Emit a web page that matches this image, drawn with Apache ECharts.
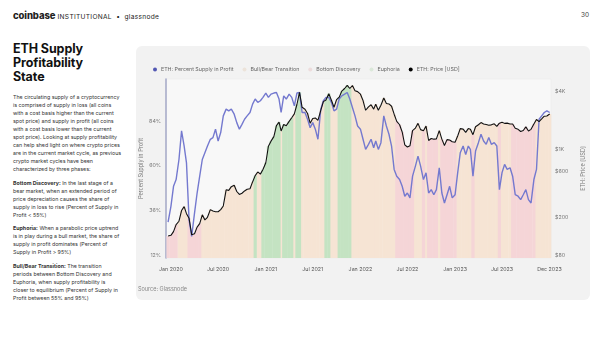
<!DOCTYPE html>
<html><head><meta charset="utf-8">
<script src="https://cdn.jsdelivr.net/npm/echarts@6/dist/echarts.min.js"></script>
<style>
html,body{margin:0;padding:0;width:600px;height:338px;background:#fff;overflow:hidden;font-family:Inter,"Noto Sans",sans-serif;}
#hdr{position:absolute;left:13px;top:10px;font-size:6.6px;color:#222;white-space:nowrap;letter-spacing:0.3px;line-height:12px}
#hdr b{font-weight:800;font-size:9.5px;letter-spacing:-0.1px}
#pg{position:absolute;left:581px;top:11px;font-size:6.5px;color:#444}
#title{position:absolute;left:13px;top:42px;font-size:12.5px;font-weight:700;line-height:14px;color:#111;letter-spacing:-0.1px}
#body{position:absolute;left:13px;top:93px;font-size:5.3px;line-height:8px;color:#333;white-space:nowrap;}
#body p{margin:0 0 5.5px 0}
#card{position:absolute;left:136px;top:46px;width:454px;height:254px;background:#f2f2f2;border-radius:6px;}
#chart{position:absolute;left:0;top:0;width:454px;height:254px}
</style></head>
<body>
<div id="hdr"><b>coinbase</b> INSTITUTIONAL &nbsp;•&nbsp; glassnode</div>
<div id="pg">30</div>
<div id="title">ETH Supply<br>Profitability<br>State</div>
<div id="body">
<p>The circulating supply of a cryptocurrency<br>is comprised of supply in loss (all coins<br>with a cost basis higher than the current<br>spot price) and supply in profit (all coins<br>with a cost basis lower than the current<br>spot price). Looking at supply profitability<br>can help shed light on where crypto prices<br>are in the current market cycle, as previous<br>crypto market cycles have been<br>characterized by three phases:</p>
<p><b>Bottom Discovery:</b> In the last stage of a<br>bear market, when an extended period of<br>price depreciation causes the share of<br>supply in loss to rise (Percent of Supply in<br>Profit &lt; 55%)</p>
<p><b>Euphoria:</b> When a parabolic price uptrend<br>is in play during a bull market, the share of<br>supply in profit dominates (Percent of<br>Supply in Profit &gt; 95%)</p>
<p><b>Bull/Bear Transition:</b> The transition<br>periods between Bottom Discovery and<br>Euphoria, when supply profitability is<br>closer to equilibrium (Percent of Supply in<br>Profit between 55% and 95%)</p>
</div>
<div id="card"><div id="chart"></div></div>
<script>
const dates = [
'2019-12-21',
'2020-01-01','2020-01-11','2020-01-21','2020-02-01','2020-02-11','2020-02-21','2020-03-01','2020-03-11','2020-03-21',
'2020-04-01','2020-04-11','2020-04-21','2020-05-01','2020-05-11','2020-05-21','2020-06-01','2020-06-11','2020-06-21',
'2020-07-01','2020-07-11','2020-07-21','2020-08-01','2020-08-11','2020-08-21','2020-09-01','2020-09-11','2020-09-21',
'2020-10-01','2020-10-11','2020-10-21','2020-11-01','2020-11-11','2020-11-21','2020-12-01','2020-12-11','2020-12-21',
'2021-01-01','2021-01-11','2021-01-21','2021-02-01','2021-02-11','2021-02-21','2021-03-01','2021-03-11','2021-03-21',
'2021-04-01','2021-04-11','2021-04-21','2021-05-01','2021-05-11','2021-05-21','2021-06-01','2021-06-11','2021-06-21',
'2021-07-01','2021-07-11','2021-07-21','2021-08-01','2021-08-11','2021-08-21','2021-09-01','2021-09-11','2021-09-21',
'2021-10-01','2021-10-11','2021-10-21','2021-11-01','2021-11-11','2021-11-21','2021-12-01','2021-12-11','2021-12-21',
'2022-01-01','2022-01-11','2022-01-21','2022-02-01','2022-02-11','2022-02-21','2022-03-01','2022-03-11','2022-03-21',
'2022-04-01','2022-04-11','2022-04-21','2022-05-01','2022-05-11','2022-05-21','2022-06-01','2022-06-11','2022-06-21',
'2022-07-01','2022-07-11','2022-07-21','2022-08-01','2022-08-11','2022-08-21','2022-09-01','2022-09-11','2022-09-21',
'2022-10-01','2022-10-11','2022-10-21','2022-11-01','2022-11-11','2022-11-21','2022-12-01','2022-12-11','2022-12-21',
'2023-01-01','2023-01-11','2023-01-21','2023-02-01','2023-02-11','2023-02-21','2023-03-01','2023-03-11','2023-03-21',
'2023-04-01','2023-04-11','2023-04-21','2023-05-01','2023-05-11','2023-05-21','2023-06-01','2023-06-11','2023-06-21',
'2023-07-01','2023-07-11','2023-07-21','2023-08-01','2023-08-11','2023-08-21','2023-09-01','2023-09-11','2023-09-21',
'2023-10-01','2023-10-11','2023-10-21','2023-11-01','2023-11-11','2023-11-21','2023-12-01','2023-12-11','2023-12-21',
'2024-01-01'
];
const supplyInProfit = [
30,
38.4,49.1,52.7, 63.4,78.7,70.6, 61.6,31.2,22.3, 34.8,45.5,54.5, 63.4,67,70.6, 74.2,75.1,79.6,
73.3,77.8,86.7, 90.3,89.4,90.3, 87.6,83.1,79.6, 82.2,84.9,86.7, 88.5,93,95.7, 93.9,94.8,96.6,
98.9,96.6,98.3, 98.9,99.2,95.7, 88.5,97.4,95.7, 98.3,96.6,92.1, 98.9,99.2,88.5, 88.5,84.9,80.4,
83.1,79.6,74.2, 90.3,94.8,96.6, 96.6,93.9,89.4, 90.3,95.7,97.4, 98.3,99.2,95.7, 91.2,86.7,81.3,
79.6,74.2,68.8, 71.5,74.2,69.7, 73.3,68.8,72.4, 86.7,81.3,76.9, 70.6,58.1,54.5, 52.7,49.1,43.8,
45.5,42.9,54.5, 59.9,65.2,59.9, 52.7,56.3,45.5, 47.3,44.6,47.3, 59,45.5,40.2, 44.6,49.1,42.9,
44.6,56.3,67, 70.6,66.1,70.6, 68.8,54.5,67.9, 72.4,76.9,73.3, 71.5,75.1,71.5, 72.4,70.6,47.3,
56.3,60.8,58.1, 59,54.5,44.6, 43.8,42,44.6, 47.3,42,40.2, 52.7,58.1,84.9, 86.7,88.5,89.4,
88.5
];
const ethPrice = [
128,
130,142,168, 182,235,258, 218,195,132, 135,158,172, 212,188,200, 240,232,228,
228,240,262, 385,380,415, 430,370,345, 355,375,390, 395,465,540, 590,560,625,
735,1090,1230, 1370,1780,1935, 1570,1830,1780, 1970,2150,2360, 2950,3950,2760, 2630,2380,1890,
2110,2140,2020, 2560,3160,3280, 3820,3260,2760, 3310,3510,4060, 4320,4650,4320, 4630,4100,4010,
3770,3240,2570, 2790,2930,2640, 2970,2570,2900, 3450,3020,2990, 2830,2340,1970, 1820,1530,1125,
1070,1100,1580, 1680,1880,1620, 1580,1760,1250, 1310,1290,1300, 1580,1290,1110, 1275,1265,1215,
1200,1390,1660, 1640,1515,1660, 1630,1435,1735, 1820,1915,1850, 1830,1800,1815, 1860,1750,1890,
1935,1880,1890, 1855,1850,1670, 1630,1550,1585, 1730,1570,1630, 1850,2060,1960, 2090,2230,2240,
2350
];
const percentTicks = [12, 36, 60, 84];
const priceTicks = [80, 200, 600, 1000, 4000];
const priceTickLabels = ['$80', '$200', '$600', '$1K', '$4K'];
const xTicks = ['2020-01-01','2020-07-01','2021-01-01','2021-07-01','2022-01-01','2022-07-01','2023-01-01','2023-07-01','2023-12-31'];
const xTickLabels = ['Jan 2020','Jul 2020','Jan 2021','Jul 2021','Jan 2022','Jul 2022','Jan 2023','Jul 2023','Dec 2023'];
const stateNames = ['Bull/Bear Transition', 'Bottom Discovery', 'Euphoria'];
const stateColors = ['#f6e4d4', '#f5d5d7', '#c4e3c2'];
const stateLegendColors = ['#ece3da', '#eddcdc', '#dbe8da'];

function ts(s){ const p = s.split('-').map(Number); return Date.UTC(p[0], p[1]-1, p[2]); }
const xTickTs = xTicks.map(ts);
const dateTs = dates.map(ts);
function stateOf(v){ return v > 95 ? 2 : (v < 55 ? 1 : 0); }

const chart = echarts.init(document.getElementById('chart'), null, {renderer:'canvas'});
const font = 'Inter, "Noto Sans", sans-serif';

const stateSeries = stateNames.map((nm, k) => ({
  name: nm, type: 'bar', yAxisIndex: 1, barWidth: 3.2, barGap: '-100%',
  itemStyle: { color: stateColors[k] }, clip: true, silent: true, z: 1,
  data: dateTs.map((d, i) => [d, stateOf(supplyInProfit[i]) === k ? ethPrice[i] : '-'])
}));

chart.setOption({
  animation: false,
  textStyle: { fontFamily: font },
  legend: {
    left: 12, top: 16, itemWidth: 4, itemHeight: 4, itemGap: 9, icon: 'circle',
    textStyle: { fontSize: 5.3, color: '#666', fontFamily: font, padding: [0, 0, 0, -1] },
    data: [
      { name: 'ETH: Percent Supply in Profit', itemStyle: { color: '#5257b3' } },
      { name: stateNames[0], itemStyle: { color: stateLegendColors[0] } },
      { name: stateNames[1], itemStyle: { color: stateLegendColors[1] } },
      { name: stateNames[2], itemStyle: { color: stateLegendColors[2] } },
      { name: 'ETH: Price [USD]', itemStyle: { color: '#000' } }
    ]
  },
  graphic: [{ type: 'text', left: 2, top: 240, style: { text: 'Source: Glassnode', fontSize: 5.5, fill: '#888', fontFamily: font } }],
  grid: { left: 30, right: 39, top: 33, bottom: 42, containLabel: false, outerBoundsMode: 'none',
          show: true, backgroundColor: '#f8f8f8', borderColor: '#e8e8e8', borderWidth: 0.5 },
  xAxis: {
    type: 'value', min: ts('2019-12-13'), max: ts('2024-01-06'),
    axisLine: { show: false }, axisTick: { show: false }, splitLine: { show: false },
    axisLabel: {
      customValues: xTickTs, fontSize: 5.3, color: '#555', margin: 9, hideOverlap: false,
      formatter: function (v) { const i = xTickTs.findIndex(t => Math.abs(t - v) < 43200000); return i >= 0 ? xTickLabels[i] : ''; }
    }
  },
  yAxis: [
    {
      type: 'value', min: 10.8, max: 106.4, position: 'left',
      name: 'Percent Supply in Profit', nameLocation: 'middle', nameGap: 22, nameRotate: 90, nameMoveOverlap: false,
      nameTextStyle: { fontSize: 5.5, color: '#777' },
      axisLine: { show: true, lineStyle: { color: '#a9adca', width: 1.6 } },
      axisTick: { show: false }, splitLine: { show: false },
      axisLabel: { customValues: percentTicks, fontSize: 5.3, color: '#777', margin: 5, formatter: '{value}%' }
    },
    {
      type: 'log', min: 75.7, max: 5420, position: 'right', startValue: 75.7,
      name: 'ETH: Price [USD]', nameLocation: 'middle', nameGap: 29, nameRotate: 90, nameMoveOverlap: false,
      nameTextStyle: { fontSize: 5.5, color: '#777' },
      axisLine: { show: false }, axisTick: { show: false }, splitLine: { show: false },
      axisLabel: {
        customValues: priceTicks, fontSize: 5.3, color: '#777', margin: 4,
        formatter: function (v) { const i = priceTicks.findIndex(t => Math.abs(t - v) / t < 1e-4); return i >= 0 ? priceTickLabels[i] : ''; }
      }
    }
  ],
  series: [
    ...stateSeries,
    {
      name: 'ETH: Percent Supply in Profit', type: 'line', yAxisIndex: 0, symbol: 'none', z: 3,
      itemStyle: { color: '#5257b3' }, lineStyle: { color: '#7479cf', width: 1.4 },
      data: dateTs.map((d, i) => [d, supplyInProfit[i]])
    },
    {
      name: 'ETH: Price [USD]', type: 'line', yAxisIndex: 1, symbol: 'none', z: 4,
      itemStyle: { color: '#000' }, lineStyle: { color: '#111', width: 1.1 },
      data: dateTs.map((d, i) => [d, ethPrice[i]])
    }
  ]
});
</script>
</body></html>
